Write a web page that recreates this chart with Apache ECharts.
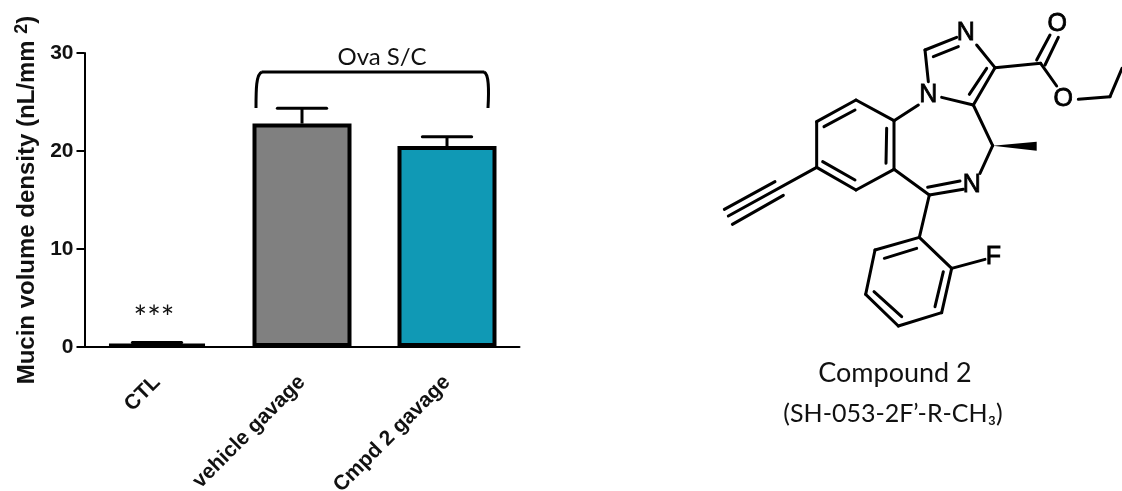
<!DOCTYPE html>
<html><head><meta charset="utf-8">
<style>html,body{margin:0;padding:0;background:#fff}#c{width:1122px;height:491px}</style>
<script src="https://cdn.jsdelivr.net/npm/echarts@6/dist/echarts.min.js"></script>
</head><body><div id="c"></div>
<script>
const categories = ['CTL', 'vehicle gavage', 'Cmpd 2 gavage'];
const means = [0.3, 22.8, 20.5];
const errorTops = [0.45, 24.35, 21.45];
const barColors = ['#808080', '#808080', '#1099b5'];
const yTicks = [0, 10, 20, 30];

// Chemical structure drawing, in zoomed (x3) coordinates relative to (700,0)
const bonds = [
 [468,300,582,362],[582,362,582,508],[582,508,468,570],[468,570,350,502],[350,502,350,365],[350,365,468,300],
 [372,380,465,330],[560,385,558,490],[368,485,465,540],
 [350,502,85,648],[225,545,73,628],[250,586,97,673],
 [582,362,655,315],[685,245,675,150],[675,150,770,112],[700,170,775,140],
 [830,135,885,203],[885,203,820,315],[860,205,808,283],[725,292,820,315],
 [820,315,878,437],[878,437,840,520],
 [582,508,688,585],[688,585,790,568],[683,562,780,543],[688,585,658,712],
 [658,712,755,805],[755,805,725,938],[725,938,595,978],[595,978,497,883],[497,883,525,750],[525,750,658,712],
 [553,775,650,745],[730,815,705,920],[605,950,522,875],
 [755,805,855,778],
 [885,203,1022,190],[1010,180,1050,105],[1035,195,1075,112],[1022,190,1070,258],
 [1135,298,1230,290],[1230,290,1266,205]
];
const atoms = [['N',685,285],['N',797,100],['N',815,555],['F',880,770],['O',1072,72],['O',1090,298]];
const wedge = [[878,437],[1010,425],[1010,452]];

const sx = v => 700 + v / 3, sy = v => v / 3;
const structure = [];
bonds.forEach(b => structure.push({type:'line',shape:{x1:sx(b[0]),y1:sy(b[1]),x2:sx(b[2]),y2:sy(b[3])},
  style:{stroke:'#000',lineWidth:3,lineCap:'round'}}));
structure.push({type:'polygon',shape:{points:wedge.map(p=>[sx(p[0]),sy(p[1])])},style:{fill:'#000'}});
atoms.forEach(a => structure.push({type:'text',x:sx(a[1]),y:sy(a[2]),
  style:{text:a[0],font:'25px "Liberation Sans"',fill:'#000',stroke:'#000',lineWidth:0.8,align:'center',verticalAlign:'middle'}}));

const bracketStyle = {fill:'none',stroke:'#000',lineWidth:3};
const chart = echarts.init(document.getElementById('c'), null, {renderer:'canvas'});
chart.setOption({
  animation:false,
  backgroundColor:'#fff',
  grid:{left:84.5,top:53,width:435,height:294,containLabel:false,outerBoundsMode:'none'},
  xAxis:{type:'category',data:categories,
    axisLine:{lineStyle:{color:'#000',width:2}},
    axisTick:{alignWithLabel:true,length:9,lineStyle:{color:'#000',width:2}},
    axisLabel:{rotate:45,margin:32,color:'#111',interval:0,hideOverlap:false,
      fontFamily:'"Liberation Sans"',fontWeight:'bold',fontSize:21}},
  yAxis:{type:'value',min:0,max:30,interval:10,
    axisLine:{show:true,onZero:false,lineStyle:{color:'#000',width:2}},
    axisTick:{show:true,length:8,lineStyle:{color:'#000',width:2}},
    splitLine:{show:false},
    axisLabel:{margin:11,color:'#111',fontFamily:'"Liberation Sans"',fontWeight:'bold',fontSize:21},
    name:'{a|Mucin volume density (nL/mm }{b|2}{a|)}',
    nameLocation:'middle',nameGap:43,nameRotate:90,
    nameTextStyle:{rich:{
      a:{fontFamily:'"Liberation Sans"',fontWeight:'bold',fontSize:24,color:'#111'},
      b:{fontFamily:'"Liberation Sans"',fontWeight:'bold',fontSize:18,color:'#111',verticalAlign:'top',padding:[0,0,10,0]}}}},
  series:[
    {type:'custom',z:1,data:categories.map((c,i)=>[i,means[i],errorTops[i]]),
     renderItem:(params,api)=>{
       const top=api.coord([api.value(0),api.value(2)]);
       const base=api.coord([api.value(0),api.value(1)]);
       const half=api.size([1,0])[0]*0.17;
       const st={stroke:'#000',lineWidth:3};
       return {type:'group',children:[
         {type:'line',shape:{x1:base[0],y1:base[1],x2:top[0],y2:top[1]},style:st},
         {type:'line',shape:{x1:top[0]-half,y1:top[1],x2:top[0]+half,y2:top[1]},style:{...st,lineCap:'round'}}]};
     }},
    {type:'bar',z:2,barWidth:99,
     data:means.map((v,i)=>({value:v,itemStyle:{color:barColors[i]}})),
     itemStyle:{borderColor:'#000',borderWidth:4}}
  ],
  graphic:[
    {type:'bezierCurve',silent:true,shape:{x1:256,y1:108,cpx1:256,cpy1:90,cpx2:256,cpy2:74,x2:262,y2:72},style:bracketStyle},
    {type:'line',silent:true,shape:{x1:262,y1:72,x2:484,y2:72},style:bracketStyle},
    {type:'bezierCurve',silent:true,shape:{x1:484,y1:72,cpx1:489,cpy1:74,cpx2:489,cpy2:90,x2:488,y2:108},style:bracketStyle},
    {type:'text',x:382,y:57,style:{text:'Ova S/C',font:'24px Lato',fill:'#111',align:'center',verticalAlign:'middle'}},
    {type:'text',x:154,y:319,style:{text:'***',font:'32px Lato',fill:'#111',align:'center',verticalAlign:'middle'}},
    {type:'text',x:895,y:373,style:{text:'Compound 2',font:'27px Lato',fill:'#111',align:'center',verticalAlign:'middle'}},
    {type:'text',x:893,y:414,style:{text:'(SH-053-2F’-R-CH₃)',font:'25px Lato',fill:'#111',align:'center',verticalAlign:'middle'}},
    ...structure
  ]
});
</script></body></html>
